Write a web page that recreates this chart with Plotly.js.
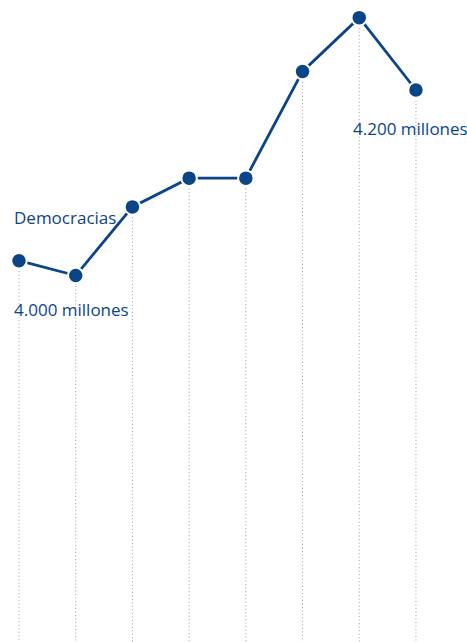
<!DOCTYPE html>
<html>
<head>
<meta charset="utf-8">
<script src="https://cdn.plot.ly/plotly-3.0.1.min.js"></script>
<style>html,body{margin:0;padding:0;background:#fff;}#chart{width:467px;height:642px;}</style>
</head>
<body>
<div id="chart"></div>
<script>
// Data (millions of people living in democracies)
const points = [0, 1, 2, 3, 4, 5, 6, 7];
const democracias = [4016, 4000, 4074, 4105, 4105, 4220, 4278, 4200];
const seriesName = "Democracias";
const labelLow = "4.000 millones";
const labelHigh = "4.200 millones";

const blue = "#0b4587";
const yBottom = 3605;

const shapes = points.map((x, i) => ({
  type: "line", xref: "x", yref: "y",
  x0: x, x1: x, y0: democracias[i], y1: yBottom,
  line: { color: "#9c9c9c", width: 1, dash: "1px,2.5px" },
  layer: "below"
}));

const trace = {
  x: points, y: democracias, type: "scatter", mode: "lines+markers",
  line: { color: blue, width: 2.8 },
  marker: { color: blue, size: 15.5, line: { color: "#fff", width: 2 } },
  hoverinfo: "skip"
};

const font = { family: "Open Sans, Noto Sans, sans-serif", size: 17, color: blue };

const layout = {
  width: 467, height: 642,
  margin: { l: 0, r: 0, t: 0, b: 0 },
  paper_bgcolor: "#fff", plot_bgcolor: "#fff",
  showlegend: false,
  xaxis: { range: [-0.335, 7.90], visible: false, fixedrange: true },
  yaxis: { range: [yBottom, 4297], visible: false, fixedrange: true },
  shapes: shapes,
  annotations: [
    { text: seriesName, xref: "paper", yref: "paper", x: 12 / 467, y: 1 - 217 / 642,
      xanchor: "left", yanchor: "middle", showarrow: false, font: font },
    { text: labelLow, xref: "paper", yref: "paper", x: 12 / 467, y: 1 - 310 / 642,
      xanchor: "left", yanchor: "middle", showarrow: false, font: font },
    { text: labelHigh, xref: "paper", yref: "paper", x: 351 / 467, y: 1 - 128 / 642,
      xanchor: "left", yanchor: "middle", showarrow: false, font: font }
  ]
};

Plotly.newPlot("chart", [trace], layout, { displayModeBar: false, staticPlot: true });
</script>
</body>
</html>
